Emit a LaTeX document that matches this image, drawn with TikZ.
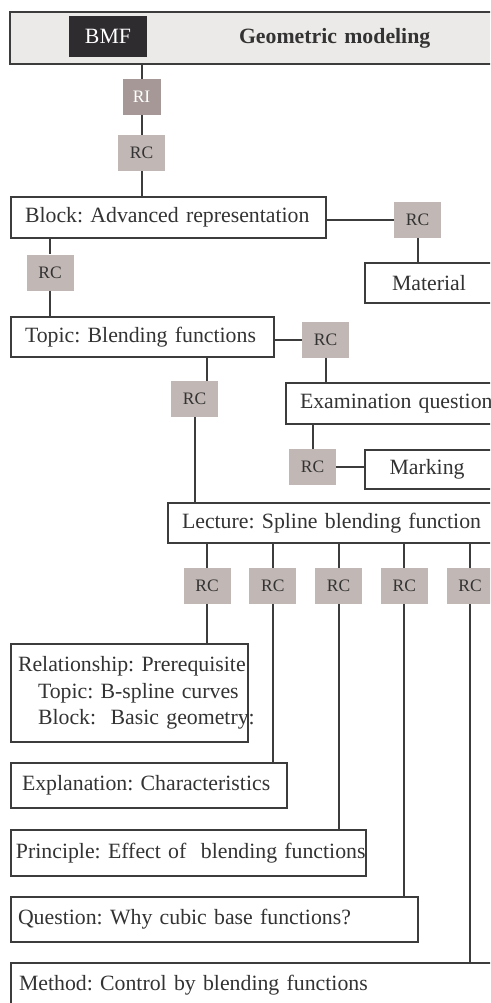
\documentclass[tikz,border=0pt]{standalone}
\usepackage{fontspec}
\setmainfont{Liberation Serif}
\usepackage{tikz}
\frenchspacing
\hyphenpenalty=10000
\exhyphenpenalty=10000
\definecolor{lin}{HTML}{3C3C3C}
\definecolor{txt}{HTML}{333333}
\definecolor{hdfill}{HTML}{EBEAE8}
\definecolor{bmffill}{HTML}{2F2C2F}
\definecolor{rifill}{HTML}{A69896}
\definecolor{rcfill}{HTML}{C1B7B4}
\tikzstyle{frm}=[draw=lin, line width=2pt, fill=white, text=txt, anchor=west, align=left]
\tikzstyle{rc}=[fill=rcfill, text=txt, minimum width=47pt, minimum height=36pt, inner sep=0pt, font=\fontsize{17.5}{20}\selectfont]
\tikzstyle{ri}=[rc, fill=rifill, text=white, minimum width=38pt]
\tikzstyle{con}=[draw=lin, line width=2pt]

\begin{document}
\begin{tikzpicture}[x=1pt,y=-1pt,font=\fontsize{21.8}{26.5}\selectfont]
    \useasboundingbox (0,0) rectangle (490,1003);
    \clip (0,0) rectangle (490,1003);
    % header
    \node [frm, fill=hdfill, text width=300pt, inner xsep=229pt, minimum height=52pt,
           font=\fontsize{21.8}{26.5}\selectfont\bfseries] (hd) at (9,38) {Geometric modeling};
    \node [fill=bmffill, text=white, minimum width=78pt, minimum height=41pt, inner sep=0pt] (bmf) at (108,36.5) {BMF};
    \node [ri] (ri) at (141.5,97) {RI};
    \node [rc] (rc0) at (141.5,153) {RC};
    % blocks and topics
    \node [frm, text width=287pt, inner xsep=14pt, minimum height=41pt] (blk) at (10,217.5) {Block:~Advanced~representation};
    \node [rc] (rcb) at (417.5,220) {RC};
    \node [frm, text width=200pt, inner xsep=27pt, minimum height=40pt] (mat) at (364,283) {Material};
    \node [rc] (rc1) at (50,272.5) {RC};
    \node [frm, text width=235pt, inner xsep=14pt, minimum height=40pt] (topic) at (10,337) {Topic: Blending functions};
    \node [rc] (rct) at (325.5,339.5) {RC};
    \node [frm, text width=250pt, inner xsep=14pt, minimum height=41pt] (exam) at (285,403.5) {Examination question};
    \node [rc] (rc2) at (194.5,399) {RC};
    \node [rc] (rce) at (312.5,467) {RC};
    \node [frm, text width=200pt, inner xsep=24.5pt, minimum height=39pt] (mark) at (364,469.5) {Marking};
    \node [frm, text width=400pt, inner xsep=14pt, minimum height=40pt] (lec) at (167,523) {Lecture: Spline blending function};
    % lecture parts
    \foreach \i in {0,...,4}
        \node [rc] (r\i) at ({207+65.75*\i},586) {RC};
    \node [frm, text width=223pt, inner xsep=7pt, minimum height=98pt] (rel) at (10,693)
        {Relationship:~Prerequisite\\\hspace*{20pt}Topic:~B-spline~curves\\\hspace*{20pt}Block:~~Basic~geometry:};
    \node [frm, text width=254pt, inner xsep=11pt, minimum height=45pt] (expl) at (10,785.5) {Explanation:~Characteristics};
    \node [frm, text width=345pt, inner xsep=5pt, minimum height=46pt] (prin) at (10,853) {Principle:~Effect~of~~blending~functions};
    \node [frm, text width=393pt, inner xsep=7pt, minimum height=45pt] (ques) at (10,919.5) {Question: Why cubic base functions?};
    \node [frm, text width=600pt, inner xsep=8pt, minimum height=45pt] (meth) at (10,985.5) {Method: Control by blending functions};
    % connectors
    \draw [con] (ri.north |- hd.south) -- (ri.north);
    \draw [con] (ri.south) -- (rc0.north);
    \draw [con] (rc0.south) -- (rc0.south |- blk.north);
    \draw [con] (rcb.west -| blk.east) -- (rcb.west);
    \draw [con] (rcb.south) -- (rcb.south |- mat.north);
    \draw [con] (rc1.north |- blk.south) -- (rc1.north);
    \draw [con] (rc1.south) -- (rc1.south |- topic.north);
    \draw [con] (rct.west -| topic.east) -- (rct.west);
    \draw [con] (rct.south) -- (rct.south |- exam.north);
    \draw [con] ([xshift=12.5pt]rc2.north |- topic.south) -- ([xshift=12.5pt]rc2.north);
    \draw [con] (rc2.south) -- (rc2.south |- lec.north);
    \draw [con] (rce.north |- exam.south) -- (rce.north);
    \draw [con] (rce.east) -- (rce.east -| mark.west);
    \foreach \i/\t in {0/rel,1/expl,2/prin,3/ques,4/meth} {
        \draw [con] (r\i.north |- lec.south) -- (r\i.north);
        \draw [con] (r\i.south) -- (r\i.south |- \t.north);
    }
\end{tikzpicture}
\end{document}
